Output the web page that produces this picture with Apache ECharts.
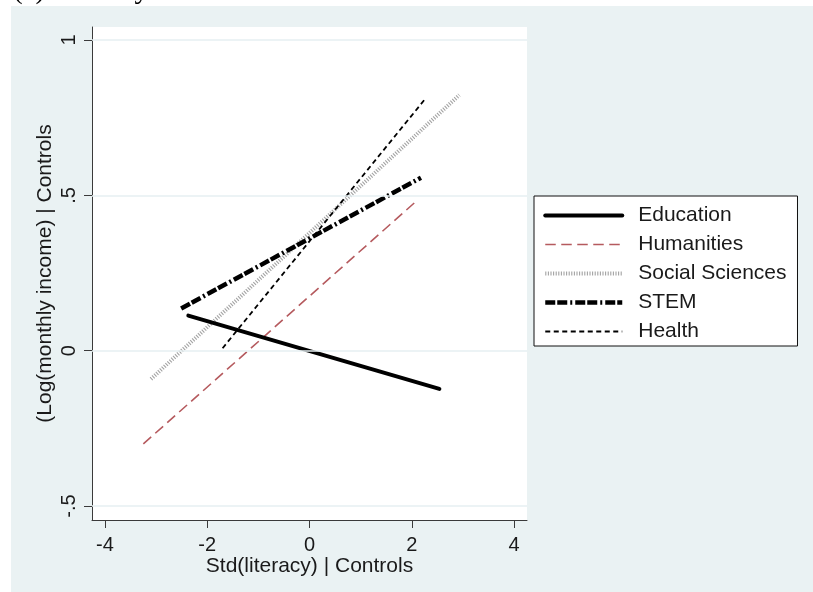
<!DOCTYPE html>
<html>
<head>
<meta charset="utf-8">
<script src="https://cdn.jsdelivr.net/npm/echarts@6/dist/echarts.min.js"></script>
<style>
  html, body { margin: 0; padding: 0; background: #ffffff; }
  #wrap { position: relative; width: 813px; height: 592px; overflow: hidden; background: #ffffff; }
  #bg { position: absolute; left: 11px; top: 6px; right: 0; bottom: 0; background: #eaf2f3; }
  #chart { position: absolute; left: 0; top: 0; width: 813px; height: 592px; }
</style>
</head>
<body>
<div id="wrap"><div id="bg"></div><div id="chart"></div></div>
<script>
// ---- data ----
const categories = ['Education', 'Humanities', 'Social Sciences', 'STEM', 'Health'];
const educationLine = [[-2.37, 0.113], [2.54, -0.123]];
const humanitiesLine = [[-3.25, -0.300], [2.10, 0.483]];
const socialLine = [[-3.10, -0.091], [2.93, 0.823]];
const stemLine = [[-2.51, 0.136], [2.18, 0.557]];
const healthLine = [[-1.70, 0.008], [2.26, 0.810]];
const xTicks = [-4, -2, 0, 2, 4];
const yTicks = [-0.5, 0, 0.5, 1];
const xTitle = 'Std(literacy) | Controls';
const yTitle = '(Log(monthly income) | Controls';
const panelTitle = '(a) Literacy';

const font = "'Liberation Sans', Arial, sans-serif";
const fmtStata = v => (v === 0 ? '0' : String(v).replace('0.', '.'));

const chart = echarts.init(document.getElementById('chart'), null, { renderer: 'canvas' });

const lineStyles = {
  'Education': { color: '#000000', width: 4, type: 'solid', cap: 'round' },
  'Humanities': { color: '#b55a5e', width: 1.6, type: [10.5, 5.5], cap: 'butt' },
  'Social Sciences': { color: '#a3a3a3', width: 4, type: [1.1, 1.5], cap: 'butt' },
  'STEM': { color: '#000000', width: 4.5, type: [10, 2, 10, 3, 2, 3], cap: 'butt' },
  'Health': { color: '#000000', width: 1.8, type: [5, 3.5], cap: 'butt' }
};
const seriesData = [educationLine, humanitiesLine, socialLine, stemLine, healthLine];

const series = [{
  type: 'line', name: '__grid', data: [], silent: true,
  markLine: {
    silent: true, symbol: ['none', 'none'], label: { show: false },
    lineStyle: { color: '#e6eff2', width: 1.5, type: 'solid' },
    animation: false,
    data: yTicks.map(v => ({ yAxis: v }))
  }
}];
categories.forEach((name, i) => {
  series.push({
    type: 'line', name: name, data: seriesData[i], symbol: 'none',
    showSymbol: false, animation: false, silent: true,
    lineStyle: lineStyles[name],
    itemStyle: { color: lineStyles[name].color },
    z: 3 + (i === 0 ? 1 : 0)
  });
});

chart.setOption({
  animation: false,
  backgroundColor: 'transparent',
  textStyle: { fontFamily: font },
  graphic: [{
    type: 'text', left: 13, top: -24,
    style: { text: panelTitle, font: "29px 'Liberation Serif', 'Times New Roman', serif", fill: '#000' }
  }],
  grid: {
    left: 92, right: 813 - 527, top: 27, bottom: 592 - 520,
    show: true, backgroundColor: '#ffffff', borderWidth: 0
  },
  legend: {
    data: categories,
    orient: 'vertical',
    left: 534, top: 196,
    padding: [9, 11, 4, 9],
    itemWidth: 77, itemHeight: 14, itemGap: 8,
    backgroundColor: '#ffffff', borderColor: '#111111', borderWidth: 1, borderRadius: 0,
    lineStyle: { width: 'inherit' },
    itemStyle: { opacity: 0, borderWidth: 0 },
    selectedMode: false,
    textStyle: { fontSize: 21, color: '#1a1a1a', fontFamily: font, lineHeight: 20, padding: [0, 0, 0, 11] }
  },
  xAxis: {
    type: 'value', min: -4.254, max: 4.254,
    name: xTitle, nameLocation: 'middle', nameGap: 36, nameMoveOverlap: false,
    nameTextStyle: { fontSize: 21, color: '#1a1a1a', fontFamily: font },
    axisLine: { show: true, onZero: false, lineStyle: { color: '#3a3a3a', width: 1 } },
    axisTick: { show: true, inside: false, length: 8, customValues: xTicks, lineStyle: { color: '#3a3a3a', width: 1 } },
    axisLabel: { customValues: xTicks, formatter: fmtStata, fontSize: 20, color: '#1a1a1a', margin: 15, fontFamily: font },
    splitLine: { show: false }
  },
  yAxis: {
    type: 'value', min: -0.545, max: 1.042,
    name: yTitle, nameLocation: 'middle', nameGap: 36, nameRotate: 90, nameMoveOverlap: false,
    nameTextStyle: { fontSize: 21, color: '#1a1a1a', fontFamily: font },
    axisLine: { show: true, onZero: false, lineStyle: { color: '#3a3a3a', width: 1 } },
    axisTick: { show: true, inside: false, length: 8, customValues: yTicks, lineStyle: { color: '#3a3a3a', width: 1 } },
    axisLabel: { customValues: yTicks, formatter: fmtStata, rotate: 90, fontSize: 20, color: '#1a1a1a', margin: 13, fontFamily: font },
    splitLine: { show: false }
  },
  series: series
});
</script>
</body>
</html>
